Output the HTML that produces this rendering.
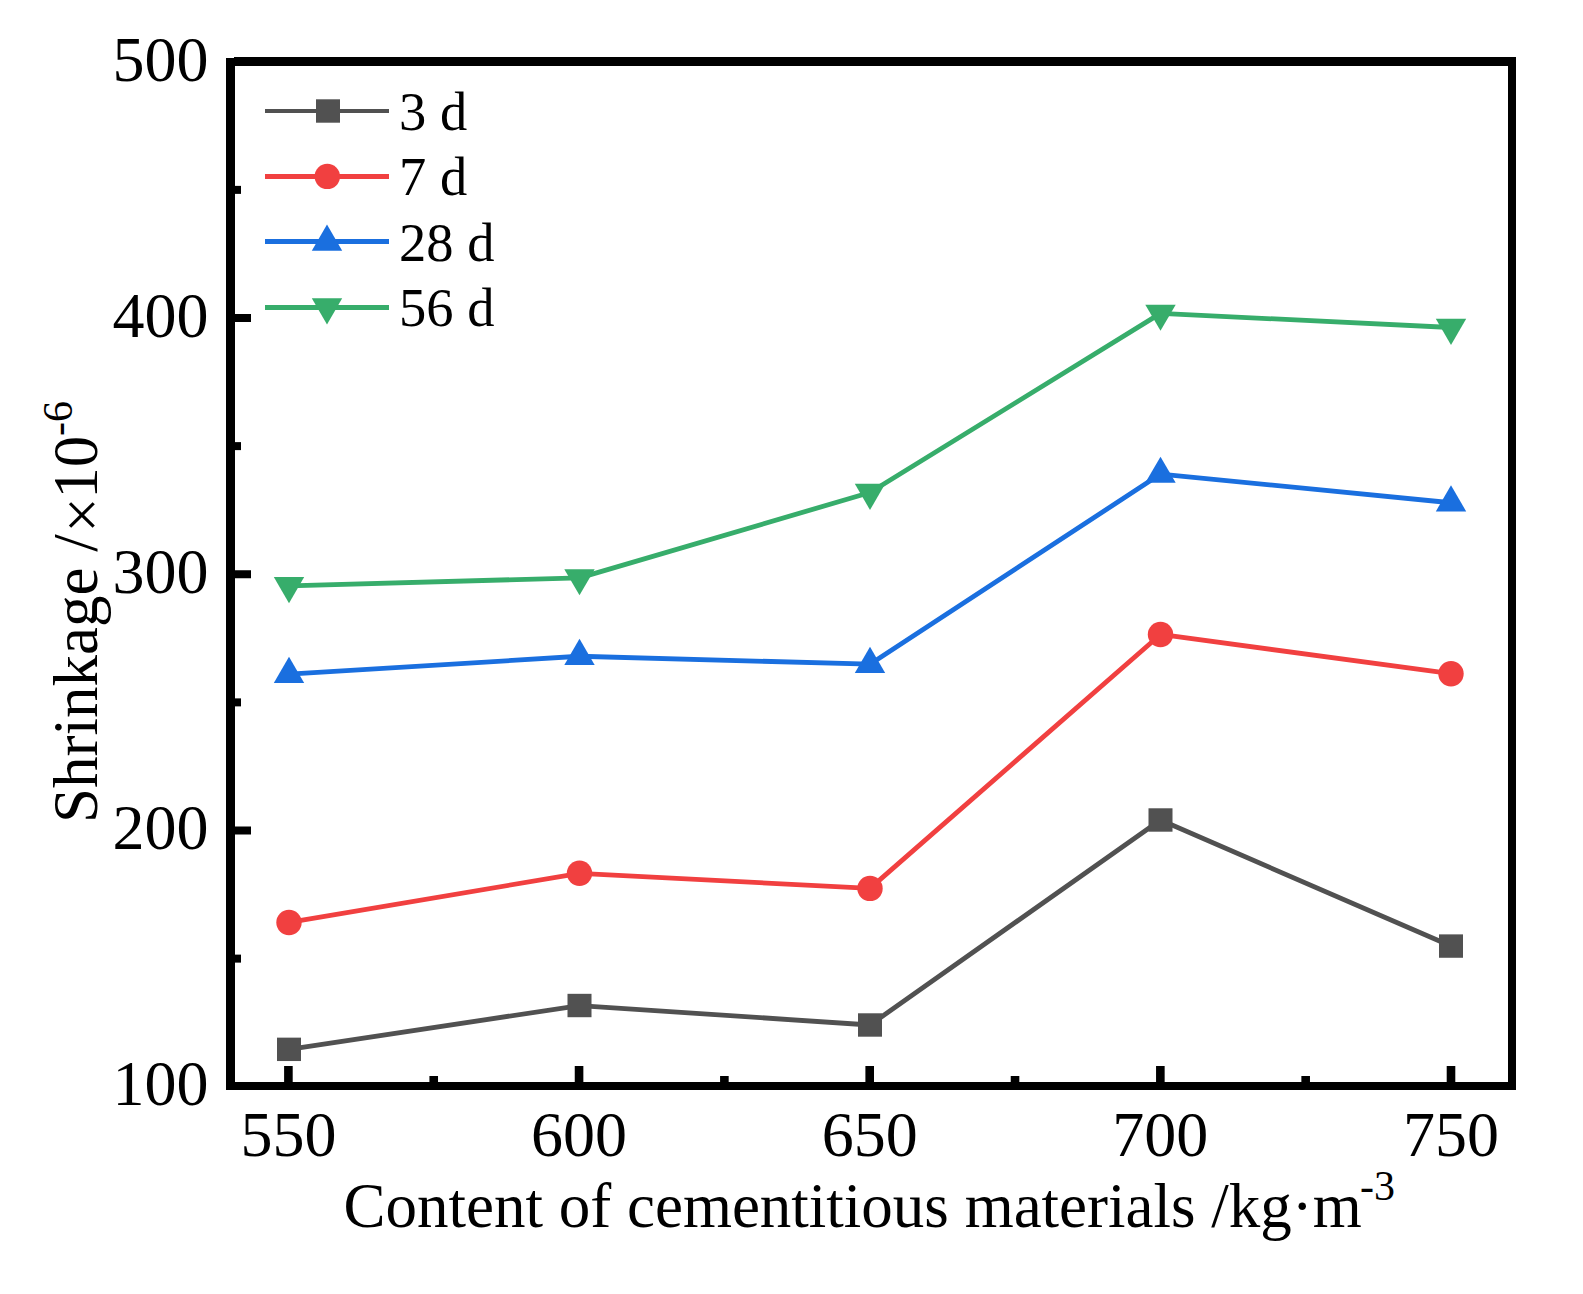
<!DOCTYPE html>
<html lang="en">
<head>
<meta charset="utf-8">
<title>Shrinkage vs content of cementitious materials</title>
<style>
html,body{margin:0;padding:0;background:#fff;}
body{width:1583px;height:1294px;overflow:hidden;}
svg{display:block;}
text{font-family:"Liberation Serif","Times New Roman",serif;fill:#000;}
.tk{font-size:64px;}
.lg{font-size:54.5px;}
.ti{font-size:63px;}
.sp{font-size:42px;}
</style>
</head>
<body>
<svg width="1583" height="1294" viewBox="0 0 1583 1294">
<rect width="1583" height="1294" fill="#fff"/>
<polyline points="289.00,1049.34 579.50,1005.52 870.00,1024.99 1160.50,819.99 1451.00,946.07" fill="none" stroke="#515151" stroke-width="4.8" stroke-linejoin="round" stroke-linecap="butt"/>
<rect x="277.00" y="1037.64" width="24" height="23.4" fill="#515151"/>
<rect x="567.50" y="993.82" width="24" height="23.4" fill="#515151"/>
<rect x="858.00" y="1013.29" width="24" height="23.4" fill="#515151"/>
<rect x="1148.50" y="808.29" width="24" height="23.4" fill="#515151"/>
<rect x="1439.00" y="934.37" width="24" height="23.4" fill="#515151"/>
<polyline points="289.00,922.49 579.50,873.29 870.00,888.41 1160.50,634.47 1451.00,673.68" fill="none" stroke="#F14040" stroke-width="4.8" stroke-linejoin="round" stroke-linecap="butt"/>
<circle cx="289.00" cy="922.49" r="12.7" fill="#F14040"/>
<circle cx="579.50" cy="873.29" r="12.7" fill="#F14040"/>
<circle cx="870.00" cy="888.41" r="12.7" fill="#F14040"/>
<circle cx="1160.50" cy="634.47" r="12.7" fill="#F14040"/>
<circle cx="1451.00" cy="673.68" r="12.7" fill="#F14040"/>
<polyline points="289.00,674.19 579.50,656.25 870.00,664.19 1160.50,474.06 1451.00,502.76" fill="none" stroke="#1A6FDF" stroke-width="4.8" stroke-linejoin="round" stroke-linecap="butt"/>
<polygon points="289.00,656.79 273.80,682.89 304.20,682.89" fill="#1A6FDF"/>
<polygon points="579.50,638.85 564.30,664.95 594.70,664.95" fill="#1A6FDF"/>
<polygon points="870.00,646.79 854.80,672.89 885.20,672.89" fill="#1A6FDF"/>
<polygon points="1160.50,456.66 1145.30,482.76 1175.70,482.76" fill="#1A6FDF"/>
<polygon points="1451.00,485.36 1435.80,511.46 1466.20,511.46" fill="#1A6FDF"/>
<polyline points="289.00,585.78 579.50,577.84 870.00,492.51 1160.50,313.39 1451.00,327.48" fill="none" stroke="#37AD6B" stroke-width="4.8" stroke-linejoin="round" stroke-linecap="butt"/>
<polygon points="289.00,603.18 273.80,577.08 304.20,577.08" fill="#37AD6B"/>
<polygon points="579.50,595.24 564.30,569.14 594.70,569.14" fill="#37AD6B"/>
<polygon points="870.00,509.91 854.80,483.81 885.20,483.81" fill="#37AD6B"/>
<polygon points="1160.50,330.79 1145.30,304.69 1175.70,304.69" fill="#37AD6B"/>
<polygon points="1451.00,344.88 1435.80,318.78 1466.20,318.78" fill="#37AD6B"/>
<g fill="#000">
<rect x="226" y="58" width="9" height="1032"/>
<rect x="234" y="57" width="1282" height="9"/>
<rect x="1508" y="57" width="8" height="1033"/>
<rect x="226" y="1082" width="1290" height="8"/>
<rect x="234" y="314.00" width="17" height="8"/>
<rect x="234" y="570.25" width="17" height="8"/>
<rect x="234" y="826.50" width="17" height="8"/>
<rect x="234" y="185.88" width="7" height="8"/>
<rect x="234" y="442.12" width="7" height="8"/>
<rect x="234" y="698.38" width="7" height="8"/>
<rect x="234" y="954.62" width="7" height="8"/>
<rect x="284.10" y="1066" width="8.6" height="17"/>
<rect x="574.75" y="1066" width="8.6" height="17"/>
<rect x="865.40" y="1066" width="8.6" height="17"/>
<rect x="1156.05" y="1066" width="8.6" height="17"/>
<rect x="1446.70" y="1066" width="8.6" height="17"/>
<rect x="429.42" y="1076" width="8.6" height="7"/>
<rect x="720.08" y="1076" width="8.6" height="7"/>
<rect x="1010.73" y="1076" width="8.6" height="7"/>
<rect x="1301.37" y="1076" width="8.6" height="7"/>
</g>
<text class="tk" x="208.5" y="80.70" text-anchor="end">500</text>
<text class="tk" x="208.5" y="336.70" text-anchor="end">400</text>
<text class="tk" x="208.5" y="592.70" text-anchor="end">300</text>
<text class="tk" x="208.5" y="848.70" text-anchor="end">200</text>
<text class="tk" x="208.5" y="1104.70" text-anchor="end">100</text>
<text class="tk" x="288.40" y="1155.5" text-anchor="middle">550</text>
<text class="tk" x="579.05" y="1155.5" text-anchor="middle">600</text>
<text class="tk" x="869.70" y="1155.5" text-anchor="middle">650</text>
<text class="tk" x="1160.35" y="1155.5" text-anchor="middle">700</text>
<text class="tk" x="1451.00" y="1155.5" text-anchor="middle">750</text>
<line x1="265" y1="111" x2="389" y2="111" stroke="#515151" stroke-width="4"/>
<rect x="316.00" y="99.30" width="24" height="23.4" fill="#515151"/>
<text class="lg" x="399" y="129.6">3 d</text>
<line x1="265" y1="176.5" x2="389" y2="176.5" stroke="#F14040" stroke-width="5"/>
<circle cx="327.30" cy="176.40" r="12.7" fill="#F14040"/>
<text class="lg" x="399" y="195.1">7 d</text>
<line x1="265" y1="241.5" x2="389" y2="241.5" stroke="#1A6FDF" stroke-width="5"/>
<polygon points="327.00,224.60 311.80,250.70 342.20,250.70" fill="#1A6FDF"/>
<text class="lg" x="399" y="260.5">28 d</text>
<line x1="265" y1="307.5" x2="389" y2="307.5" stroke="#37AD6B" stroke-width="5"/>
<polygon points="327.00,324.40 311.80,298.30 342.20,298.30" fill="#37AD6B"/>
<text class="lg" x="399" y="326.3">56 d</text>
<text class="ti" x="343.5" y="1226.7">Content of cementitious materials /kg·m</text>
<text class="sp" x="1360" y="1200.2">-3</text>
<text class="ti" transform="translate(97,823) rotate(-90)">Shrinkage /<tspan dy="6" dx="1.5">×</tspan><tspan dy="-6" dx="-1.5">10</tspan></text>
<text class="sp" transform="translate(72,436) rotate(-90)">-6</text>
</svg>
</body>
</html>
